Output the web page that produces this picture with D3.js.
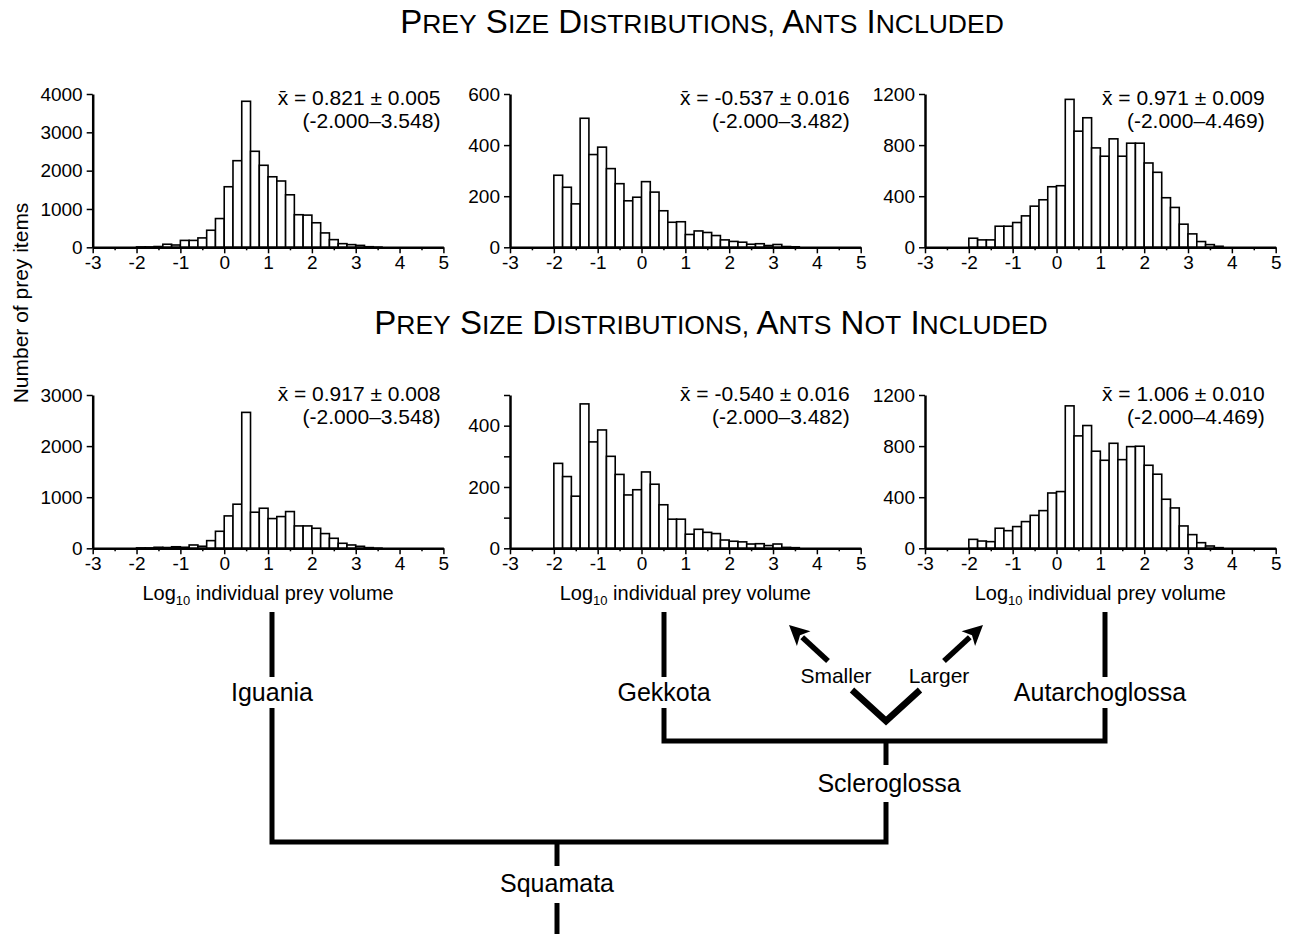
<!DOCTYPE html>
<html lang="en">
<head>
<meta charset="UTF-8">
<title>Prey size distributions</title>
<script src="https://cdn.jsdelivr.net/npm/d3@7"></script>
<style>
  body { margin: 0; background: #fff; }
  svg { font-family: "Liberation Sans", Arial, Helvetica, sans-serif; }
</style>
</head>
<body>
<div id="chart"></div>
<script>

// bin lower edges (log10 prey volume), bins are 0.2 wide
var binStarts = [-2.0, -1.8, -1.6, -1.4, -1.2, -1.0, -0.8, -0.6, -0.4, -0.2,
                  0.0,  0.2,  0.4,  0.6,  0.8,  1.0,  1.2,  1.4,  1.6,  1.8,
                  2.0,  2.2,  2.4,  2.6,  2.8,  3.0,  3.2,  3.4,  3.6,  3.8];

// counts, ants included
var iguaniaAnts  = [10, 10, 20, 80, 60, 180, 180, 245, 445, 750, 1580, 2260, 3810, 2505, 2140, 1840, 1730, 1370, 850, 840, 640, 375, 200, 95, 70, 50, 15, 5, 0, 0];
var gekkotaAnts  = [282, 235, 170, 505, 363, 392, 308, 249, 182, 196, 257, 216, 143, 98, 100, 50, 64, 58, 46, 29, 23, 20, 12, 14, 7, 11, 3, 2, 0, 0];
var autarchoAnts = [71, 58, 58, 165, 165, 194, 246, 322, 372, 474, 482, 1158, 909, 1014, 778, 713, 849, 713, 815, 815, 660, 587, 388, 312, 181, 105, 45, 21, 8, 0];

// counts, ants not included
var iguaniaNoAnts  = [8, 8, 20, 15, 30, 20, 65, 40, 150, 333, 634, 863, 2660, 706, 784, 582, 621, 719, 438, 438, 392, 288, 196, 98, 65, 39, 13, 3, 0, 0];
var gekkotaNoAnts  = [277, 234, 170, 471, 347, 386, 300, 241, 174, 191, 249, 209, 142, 95, 95, 46, 62, 52, 48, 27, 23, 21, 14, 15, 9, 14, 3, 2, 0, 0];
var autarchoNoAnts = [70, 57, 52, 157, 138, 170, 209, 258, 295, 433, 444, 1115, 880, 961, 760, 689, 822, 694, 796, 799, 650, 580, 384, 316, 175, 107, 44, 18, 5, 0];

var xTicks = [-3, -2, -1, 0, 1, 2, 3, 4, 5];
var xMinorTicks = [-2.5, -1.5, -0.5, 0.5, 1.5, 2.5, 3.5, 4.5];

var yTicksIguaniaAnts = [0, 1000, 2000, 3000, 4000];
var yTicksGekkotaAnts = [0, 200, 400, 600];
var yTicksAutarcho = [0, 400, 800, 1200];
var yTicksIguaniaNoAnts = [0, 1000, 2000, 3000];
var yTicksGekkotaNoAnts = [0, 200, 400];
var yMinorGekkotaNoAnts = [100, 300, 500];

var means = ["0.821 ± 0.005", "-0.537 ± 0.016", "0.971 ± 0.009",
             "0.917 ± 0.008", "-0.540 ± 0.016", "1.006 ± 0.010"];
var ranges = ["(-2.000–3.548)", "(-2.000–3.482)", "(-2.000–4.469)",
              "(-2.000–3.548)", "(-2.000–3.482)", "(-2.000–4.469)"];

var rowTitles = ["Prey Size Distributions, Ants Included",
                 "Prey Size Distributions, Ants Not Included"];

var panels = [
  {row: 0, col: 0, values: iguaniaAnts,    yMax: 4000, yTicks: yTicksIguaniaAnts,   yMinor: []},
  {row: 0, col: 1, values: gekkotaAnts,    yMax: 600,  yTicks: yTicksGekkotaAnts,   yMinor: []},
  {row: 0, col: 2, values: autarchoAnts,   yMax: 1200, yTicks: yTicksAutarcho,      yMinor: []},
  {row: 1, col: 0, values: iguaniaNoAnts,  yMax: 3000, yTicks: yTicksIguaniaNoAnts, yMinor: []},
  {row: 1, col: 1, values: gekkotaNoAnts,  yMax: 500,  yTicks: yTicksGekkotaNoAnts, yMinor: yMinorGekkotaNoAnts},
  {row: 1, col: 2, values: autarchoNoAnts, yMax: 1200, yTicks: yTicksAutarcho,      yMinor: []}
];

var W = 1291, H = 934;
var colX = [92.7, 510, 925];
var panelW = 350.7;
var rowTop = [94, 395];
var panelH = 153.3;
var noteInset = [3, 11, 11];

var svg = d3.select("#chart").append("svg")
    .attr("width", W)
    .attr("height", H);

// row titles in small caps
function smallCaps(sel, str, big, small) {
  str.split(" ").forEach(function(word, i) {
    sel.append("tspan").attr("font-size", big)
       .text((i > 0 ? " " : "") + word[0].toUpperCase());
    sel.append("tspan").attr("font-size", small)
       .text(word.slice(1).toUpperCase());
  });
}
var titleX = [702, 711];
var titleY = [33, 334];
rowTitles.forEach(function(t, i) {
  var txt = svg.append("text")
      .attr("x", titleX[i])
      .attr("y", titleY[i])
      .attr("text-anchor", "middle");
  smallCaps(txt, t, 33, 26.5);
});

// shared y axis title
svg.append("text")
    .attr("transform", "translate(28,303) rotate(-90)")
    .attr("text-anchor", "middle")
    .attr("font-size", 21)
    .text("Number of prey items");

panels.forEach(function(p, i) {
  var g = svg.append("g")
      .attr("transform", "translate(" + colX[p.col] + "," + rowTop[p.row] + ")");

  var x = d3.scaleLinear().domain([-3, 5]).range([0, panelW]);
  var y = d3.scaleLinear().domain([0, p.yMax]).range([panelH, 0]);

  g.selectAll("rect.bar")
    .data(binStarts.map(function(b, j) { return {b: b, v: p.values[j]}; })
                   .filter(function(d) { return d.v > 0; }))
    .enter().append("rect")
      .attr("class", "bar")
      .attr("x", function(d) { return x(d.b); })
      .attr("width", function(d) { return x(d.b + 0.2) - x(d.b); })
      .attr("y", function(d) { return y(d.v); })
      .attr("height", function(d) { return panelH - y(d.v); })
      .attr("fill", "#fff")
      .attr("stroke", "#000")
      .attr("stroke-width", 1.6);

  // x axis
  g.append("g")
      .attr("transform", "translate(0," + panelH + ")")
      .call(d3.axisBottom(x).tickValues(xTicks).tickSize(6).tickSizeOuter(0)
              .tickPadding(2).tickFormat(function(d) { return String(d); }));
  var xm = g.append("g")
      .attr("transform", "translate(0," + panelH + ")")
      .call(d3.axisBottom(x).tickValues(xMinorTicks).tickSize(3).tickFormat(""));
  xm.select(".domain").remove();

  // y axis
  g.append("g")
      .call(d3.axisLeft(y).tickValues(p.yTicks).tickSize(6).tickSizeOuter(0)
              .tickPadding(4).tickFormat(function(d) { return String(d); }));
  if (p.yMinor.length) {
    var ym = g.append("g")
        .call(d3.axisLeft(y).tickValues(p.yMinor).tickSize(6).tickFormat(""));
    ym.select(".domain").remove();
  }

  g.selectAll(".domain").attr("stroke", "#000").attr("stroke-width", 2.5);
  g.selectAll(".tick line").attr("stroke", "#000").attr("stroke-width", 1.5);
  g.selectAll(".tick text").attr("font-size", 19).attr("fill", "#000")
      .attr("font-family", "'Liberation Sans', Arial, sans-serif");

  // mean and range note
  var nx = panelW - noteInset[p.col];
  var ny = p.row === 0 ? 10.5 : 5.5;
  var note = g.append("text")
      .attr("x", nx)
      .attr("y", ny)
      .attr("text-anchor", "end")
      .attr("font-size", 21);
  note.append("tspan").text("x\u0304");
  note.append("tspan").text(" = " + means[i]);
  g.append("text")
      .attr("x", nx)
      .attr("y", ny + 23.6)
      .attr("text-anchor", "end")
      .attr("font-size", 21)
      .text(ranges[i]);

  // x axis title on lower row
  if (p.row === 1) {
    var t = g.append("text")
        .attr("x", panelW / 2)
        .attr("y", panelH + 52)
        .attr("text-anchor", "middle")
        .attr("font-size", 20);
    t.append("tspan").text("Log");
    t.append("tspan").attr("font-size", 13).attr("dy", 5).text("10");
    t.append("tspan").attr("dy", -5).text(" individual prey volume");
  }
});

// phylogeny below the histograms
var tree = svg.append("g")
    .attr("fill", "none")
    .attr("stroke", "#000")
    .attr("stroke-width", 5)
    .attr("stroke-linecap", "butt")
    .attr("stroke-linejoin", "miter");

var branches = [
  "M272,612V677", "M272,708V842H886V802",
  "M664,612V677", "M664,708V741H1105V708", "M1105,612V677",
  "M886,741V765",
  "M557,842V866", "M557,903V934"
];
tree.selectAll("path.branch")
  .data(branches)
  .enter().append("path")
    .attr("class", "branch")
    .attr("d", function(d) { return d; });

// the V with the two direction arrows
tree.append("path")
    .attr("d", "M852,690L886,721L920,690")
    .attr("stroke-width", 6.5);

function arrow(x0, y0, x1, y1) {
  var dx = x1 - x0, dy = y1 - y0, len = Math.sqrt(dx * dx + dy * dy);
  var ux = dx / len, uy = dy / len, hl = 20, hw = 10;
  var bx = x1 - ux * hl, by = y1 - uy * hl;
  svg.append("line")
      .attr("x1", x0).attr("y1", y0)
      .attr("x2", bx + ux * 2).attr("y2", by + uy * 2)
      .attr("stroke", "#000").attr("stroke-width", 5.5);
  svg.append("path")
      .attr("d", "M" + x1 + "," + y1 +
                 "L" + (bx - uy * hw) + "," + (by + ux * hw) +
                 "L" + (bx + ux * 5) + "," + (by + uy * 5) +
                 "L" + (bx + uy * hw) + "," + (by - ux * hw) + "Z")
      .attr("fill", "#000");
}
arrow(828, 661, 789, 625);
arrow(944, 661, 983, 625);

var labels = [
  {t: "Iguania", x: 272, y: 692, s: 25},
  {t: "Gekkota", x: 664, y: 692, s: 25},
  {t: "Autarchoglossa", x: 1100, y: 692, s: 25},
  {t: "Scleroglossa", x: 889, y: 783, s: 25},
  {t: "Squamata", x: 557, y: 883, s: 25},
  {t: "Smaller", x: 836, y: 676, s: 21},
  {t: "Larger", x: 939, y: 676, s: 21}
];
svg.selectAll("text.clade")
  .data(labels)
  .enter().append("text")
    .attr("class", "clade")
    .attr("x", function(d) { return d.x; })
    .attr("y", function(d) { return d.y; })
    .attr("dy", "0.35em")
    .attr("text-anchor", "middle")
    .attr("font-size", function(d) { return d.s; })
    .text(function(d) { return d.t; });

</script>
</body>
</html>
